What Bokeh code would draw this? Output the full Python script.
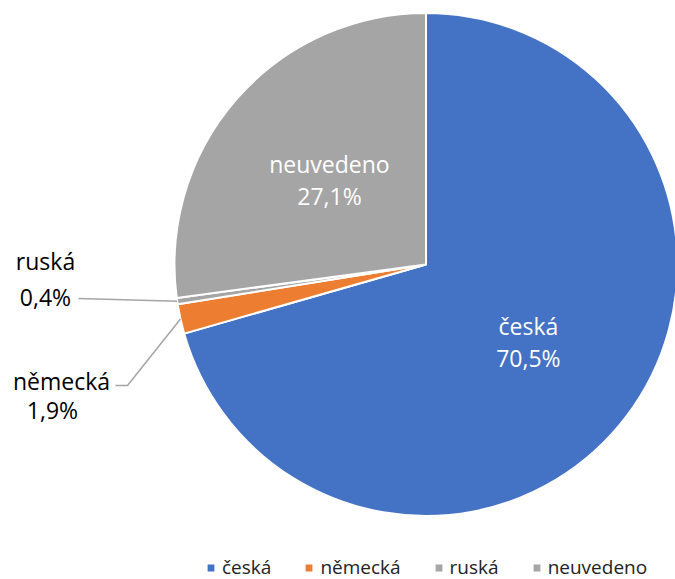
import math
from bokeh.plotting import figure
from bokeh.models import Range1d, ColumnDataSource, Legend, LegendItem
from bokeh.core.properties import value
from bokeh.embed import file_html
from bokeh.resources import INLINE

categories = ["česká", "německá", "ruská", "neuvedeno"]
shares = [70.5, 1.9, 0.4, 27.1]
pct_labels = ["70,5%", "1,9%", "0,4%", "27,1%"]
colors = ["#4472C4", "#ED7D31", "#A5A5A5", "#A5A5A5"]

W, H = 675, 579
FONT = "Open Sans"
# image pixel coordinates: x to the right, data y = -image y
p = figure(width=W, height=H, output_backend="svg", toolbar_location=None,
           x_range=Range1d(0, W), y_range=Range1d(-H, 0),
           x_axis_type=None, y_axis_type=None, min_border=0)
p.grid.visible = False
p.outline_line_color = None
p.background_fill_color = "white"

cx, cy, r = 425.5, -264.0, 251.5
total = sum(shares)
starts, ends, mids = [], [], []
cum = 0.0
for s in shares:
    a0 = math.pi / 2 - cum / total * 2 * math.pi
    cum += s
    a1 = math.pi / 2 - cum / total * 2 * math.pi
    starts.append(a0)
    ends.append(a1)
    mids.append((a0 + a1) / 2)

renderers = []
for i, cat in enumerate(categories):
    src = ColumnDataSource(dict(x=[cx], y=[cy], s=[starts[i]], e=[ends[i]]))
    rr = p.wedge(x="x", y="y", radius=r, start_angle="s", end_angle="e",
                 direction="clock", fill_color=colors[i], line_color="white",
                 line_width=2, source=src)
    renderers.append(rr)

LBL = "23px"
# inside labels (česká, neuvedeno)
for i in (0, 3):
    k = 0.51 * r
    lx = cx + k * math.cos(mids[i])
    ly = cy + k * math.sin(mids[i])
    p.text(x=[lx], y=[ly + 16], text=[categories[i]], text_color="white",
           text_font=value(FONT), text_font_size=LBL, text_align="center",
           text_baseline="middle")
    p.text(x=[lx], y=[ly - 16], text=[pct_labels[i]], text_color="white",
           text_font=value(FONT), text_font_size=LBL, text_align="center",
           text_baseline="middle")

# outside labels with leader lines
# ruská
ea = mids[2]
ex, ey = cx + r * math.cos(ea), cy + r * math.sin(ea)
p.line(x=[78, ex], y=[-298, ey], line_color="#A5A5A5", line_width=1.5)
p.text(x=[45], y=[-260], text=[categories[2]], text_color="black",
       text_font=value(FONT), text_font_size=LBL, text_align="center",
       text_baseline="middle")
p.text(x=[45], y=[-296], text=[pct_labels[2]], text_color="black",
       text_font=value(FONT), text_font_size=LBL, text_align="center",
       text_baseline="middle")
# německá
ea = mids[1]
ex, ey = cx + r * math.cos(ea), cy + r * math.sin(ea)
p.line(x=[115, 127, ex], y=[-385, -385, ey], line_color="#A5A5A5", line_width=1.5)
p.text(x=[61], y=[-380], text=[categories[1]], text_color="black",
       text_font=value(FONT), text_font_size=LBL, text_align="center",
       text_baseline="middle")
p.text(x=[52], y=[-409], text=[pct_labels[1]], text_color="black",
       text_font=value(FONT), text_font_size=LBL, text_align="center",
       text_baseline="middle")

legend = Legend(items=[LegendItem(label=c, renderers=[renderers[i]])
                       for i, c in enumerate(categories)],
                orientation="horizontal",
                label_text_font=FONT, label_text_font_size="19px",
                label_text_color="#222222",
                glyph_width=11, glyph_height=11, label_standoff=6, spacing=32,
                padding=0, margin=0, border_line_color=None,
                background_fill_alpha=0)
p.add_layout(legend, "center")
legend.location = (205, -1)

open("out.html", "w").write(file_html(p, INLINE))
